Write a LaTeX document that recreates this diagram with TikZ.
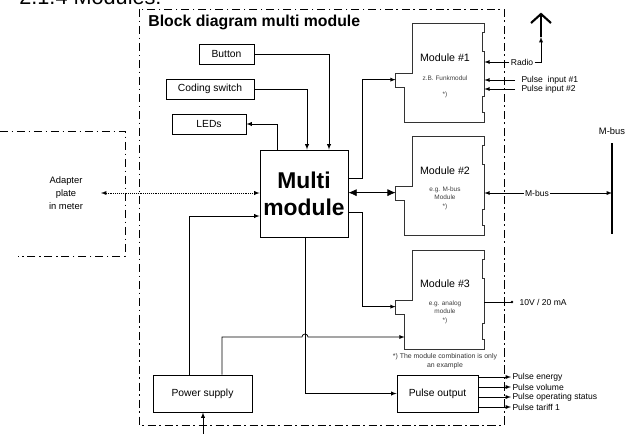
\documentclass[tikz,border=0pt]{standalone}
\usepackage{fontspec}
\setmainfont{Liberation Sans}
\usetikzlibrary{calc,arrows.meta}

% outline of a plug-in module round its body node
\newcommand{\modoutline}[1]{%
  \draw[modline] ($(#1.north west)+(8,0)$) -- (#1.north east) -- ++(0,9) -- ++(-2,0) -- ++(0,19) -- ++(2,0)
    -- ++(0,45) -- ++(-2,0) -- ++(0,16) -- ++(2,0) -- (#1.south east) -- (#1.south west)
    -- ++(0,-35) -- ++(-9,0) -- ++(0,-14) -- ++(17,0) -- cycle;}

\begin{document}
\begin{tikzpicture}[x=0.3mm,y=-0.3mm,>=latex,line width=0.6pt,
    box/.style={draw,line width=0.7pt,inner sep=0pt,font=\fontsize{8.8}{10}\selectfont},
    modbody/.style={inner sep=0pt,minimum width=23.7mm,minimum height=29.4mm},
    modline/.style={line width=1.1pt,draw=black!80},
    modtitle/.style={font=\fontsize{9.1}{11}\selectfont,inner sep=0pt},
    modsmall/.style={font=\fontsize{5.5}{7.3}\selectfont,text=black!75,align=center,inner sep=0pt},
    lbl/.style={font=\fontsize{7.3}{9.5}\selectfont,inner sep=1pt},
    frame/.style={line width=0.7pt,dash pattern=on 7pt off 3pt on 1.5pt off 3pt},
    bigtip/.style={{Latex[length=7pt,width=6pt]}-{Latex[length=7pt,width=6pt]}}]
    \useasboundingbox (0,0) rectangle (632,434);

    % heading, cut at the top
    \node[anchor=base west,inner sep=0pt,font=\fontsize{18.5}{22}\selectfont] (heading) at (19,4) {2.1.4 Modules:};

    % frame of the multi module
    \draw[frame] (139,9) rectangle (504,425);
    \node[anchor=base west,inner sep=0pt,font=\fontsize{13.5}{16}\selectfont\bfseries] (title) at (148,26) {Block diagram multi module};

    % adapter plate
    \draw[frame] (0,131) -- (125,131) -- (125,256) -- (18,256);
    \node[lbl,align=center,font=\fontsize{8}{11}\selectfont] (adapter) at (66,193) {Adapter\\plate\\in meter};

    % boxes
    \node[box,minimum width=16.5mm,minimum height=6mm] (button) at (226.5,54) {Button};
    \node[box,minimum width=26.4mm,minimum height=6mm] (coding) at (210,89) {Coding switch};
    \node[box,minimum width=22.2mm,minimum height=6mm] (leds) at (209,124) {LEDs};
    \node[box,minimum width=26.4mm,minimum height=26.1mm,align=center,
        font=\fontsize{19.5}{23}\selectfont\bfseries] (multi) at (304,193.5) {Multi\\module};
    \node[box,minimum width=29.7mm,minimum height=11.1mm] (power) at (202.5,393.5) {Power supply};
    \node[box,minimum width=24.3mm,minimum height=11.1mm] (pout) at (437.5,393.5) {Pulse output};

    % modules
    \node[modbody] (mod1) at (444.5,73) {};
    \node[modbody] (mod2) at (444.5,186) {};
    \node[modbody] (mod3) at (444.5,300) {};
    \modoutline{mod1}
    \modoutline{mod2}
    \modoutline{mod3}
    \node[modtitle] (mod1t) at (445,58) {Module \#1};
    \node[modsmall] (mod1s) at (445,78) {z.B. Funkmodul};
    \node[modsmall] (mod1n) at (445,95) {*)};
    \node[modtitle] (mod2t) at (445,171) {Module \#2};
    \node[modsmall] (mod2s) at (445,198) {e.g. M-bus\\Module\\*)};
    \node[modtitle] (mod3t) at (445,284) {Module \#3};
    \node[modsmall] (mod3s) at (445,312) {e.g. analog\\module\\*)};
    \node[modsmall,text=black!80,font=\fontsize{5.9}{7.3}\selectfont] (note) at (445,361) {*) The module combination is only\\an example};

    % tabs of the modules
    \coordinate (tab1) at ($(mod1.north west)+(-9,56)$);
    \coordinate (tab2) at ($(mod2.north west)+(-9,56)$);
    \coordinate (tab3) at ($(mod3.north west)+(-9,56)$);

    % inputs of the multi module
    \coordinate (b1) at (329,54);
    \coordinate (c1) at (307,89);
    \coordinate (l1) at (277,124);
    \draw[->] (button.east) -- (b1) -- (b1 |- multi.north);
    \draw[->] (coding.east) -- (c1) -- (c1 |- multi.north);
    \draw[->] (l1 |- multi.north) -- (l1) -- (leds.east);
    \coordinate (ad) at (101,193);
    \draw[<->,densely dotted] (ad) -- (ad -| multi.west);

    % multi module to the modules
    \coordinate (m1) at (362,178);
    \coordinate (m3) at (362,212);
    \draw[->] (m1 -| multi.east) -- (m1) |- (tab1);
    \draw[bigtip] (tab2 -| multi.east) -- (tab2);
    \draw[->] (m3 -| multi.east) -- (m3) |- (tab3);

    % power supply
    \coordinate (p1) at (189,216);
    \coordinate (p2) at (222,337);
    \coordinate (ps0) at (203,434);
    \draw[->] (p1 |- power.north) -- (p1) -- (p1 -| multi.west);
    \draw[->] (p2 |- power.north) -- (p2) -- (302,337) arc[start angle=180,end angle=360,radius=3] -- (p2 -| mod3.west);
    \draw[->] (ps0) -- (ps0 |- power.south);

    % pulse output
    \coordinate (q1) at (305,393.5);
    \draw[->] (q1 |- multi.south) -- (q1) -- (pout.west);
    \node[lbl,anchor=west] (pulse1) at (511,377) {Pulse energy};
    \node[lbl,anchor=west] (pulse2) at (511,387) {Pulse volume};
    \node[lbl,anchor=west] (pulse3) at (511,397) {Pulse operating status};
    \node[lbl,anchor=west] (pulse4) at (511,407) {Pulse tariff 1};
    \draw[->] (pout.east |- pulse1) -- (pulse1.west);
    \draw[->] (pout.east |- pulse2) -- (pulse2.west);
    \draw[->] (pout.east |- pulse3) -- (pulse3.west);
    \draw[->] (pout.east |- pulse4) -- (pulse4.west);

    % radio and pulse inputs
    \node[lbl] (radio) at (522,62) {Radio};
    \coordinate (ant) at (541,37);
    \draw[->] (radio.west) -- (radio.west -| mod1.east);
    \draw[->] (radio.east) -| (ant);
    \draw[line width=2pt] (ant) -- ++(0,-23);
    \draw[line width=1.8pt] ($(ant)+(-10,-14)$) -- ($(ant)+(0,-23)$) -- ($(ant)+(10,-14)$);
    \node[lbl,anchor=west] (in1) at (520,80) {Pulse\ \ input \#1};
    \node[lbl,anchor=west] (in2) at (520,89) {Pulse input \#2};
    \coordinate (pin1) at (515,80);
    \coordinate (pin2) at (515,89);
    \draw[->] (pin1) -- (pin1 -| mod1.east);
    \draw[->] (pin2) -- (pin2 -| mod1.east);

    % M-bus
    \coordinate (bartop) at (612,143);
    \coordinate (barbot) at (612,234);
    \draw[line width=2.2pt] (bartop) -- (barbot);
    \node[lbl,font=\fontsize{8}{10}\selectfont] (mbuslbl) at (612,131) {M-bus};
    \node[lbl] (mbus) at (537,193) {M-bus};
    \draw[->] (mbus.west) -- (mbus.west -| mod2.east);
    \draw[->] (mbus.east) -- (mbus.east -| bartop);

    % analog output
    \coordinate (dot) at (512,302);
    \node[lbl,anchor=west] (ana) at (518,302) {10V / 20 mA};
    \draw (dot -| mod3.east) -- (dot);
    \fill (dot) circle (1.4);
\end{tikzpicture}
\end{document}
